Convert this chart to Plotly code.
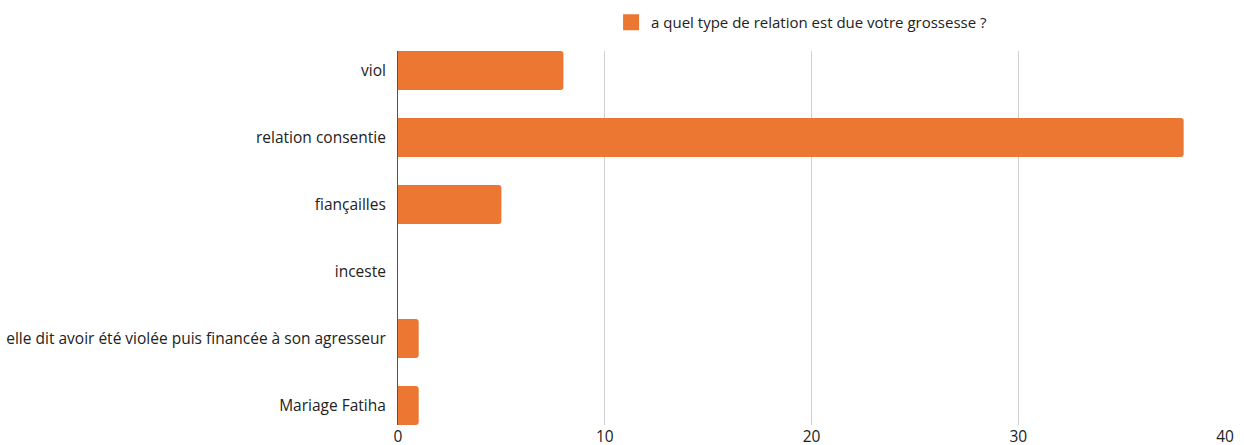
import plotly.graph_objects as go

categories = [
    "viol",
    "relation consentie",
    "fiançailles",
    "inceste",
    "elle dit avoir été violée puis financée à son agresseur",
    "Mariage Fatiha",
]
values = [8, 38, 5, 0, 1, 1]
series_name = "a quel type de relation est due votre grossesse ?"
x_ticks = [0, 10, 20, 30, 40]

color = "#EB7732"
FONT = 15.5

fig = go.Figure()
fig.add_trace(go.Bar(
    y=categories, x=values, orientation="h",
    marker=dict(color=color, cornerradius=3, line=dict(width=0)),
    width=0.582, name=series_name, showlegend=False,
))
# legend entry with a larger square symbol
fig.add_trace(go.Scatter(
    x=[None], y=[None], mode="markers", name=series_name,
    marker=dict(symbol="square", size=20, color=color),
    showlegend=True,
))

fig.update_layout(
    width=1244, height=445,
    margin=dict(l=398, r=19, t=51, b=20),
    paper_bgcolor="white", plot_bgcolor="white",
    font=dict(family="Open Sans", size=FONT, color="#222222"),
    showlegend=True,
    legend=dict(orientation="h", x=0.488, xanchor="center", xref="paper",
                y=1 - 22.5 / 445, yanchor="middle", yref="container",
                font=dict(size=15, color="#222222")),
    xaxis=dict(range=[0, 40], tickvals=x_ticks, showgrid=True, gridcolor="#d0d0d0",
               gridwidth=1, zeroline=False, showline=False, ticks="", automargin=False,
               ticklabelstandoff=0,
               tickfont=dict(size=FONT, color="#222222")),
    yaxis=dict(type="category", categoryorder="array", categoryarray=categories,
               range=[5.291, -0.291], showgrid=False, zeroline=False,
               showline=True, linecolor="#555555", linewidth=1, ticks="",
               ticklabelstandoff=8, automargin=False,
               tickfont=dict(size=FONT, color="#222222")),
)

fig.write_html("out.html", config={"displayModeBar": False},
               post_script="document.body.style.margin='0';")
